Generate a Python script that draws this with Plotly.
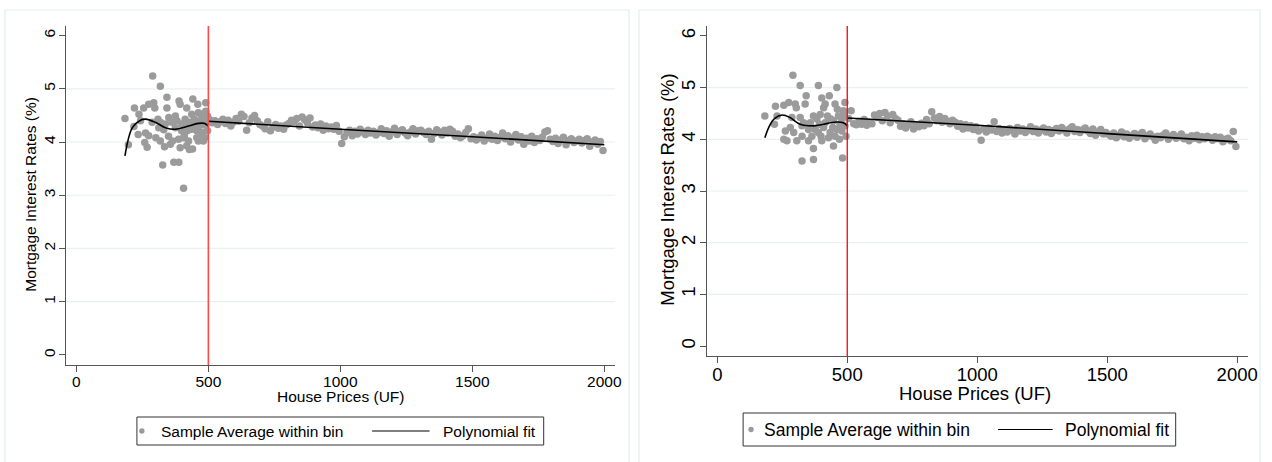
import plotly.graph_objects as go

# ---- data: left panel ----
left_low_x = [184, 197, 220, 234, 218, 255, 274, 289, 293, 297, 262, 274, 259, 268, 318, 309, 318, 301, 318, 327,
              343, 343, 337, 350, 334, 356, 369, 388, 389, 393, 381, 375, 364, 387, 393, 406, 399, 418, 412, 420,
              409, 428, 440, 441, 437, 431, 449, 456, 462, 468, 475, 485, 481, 490, 490, 490, 487, 497, 497, 497,
              362, 375, 399, 406, 415, 425, 437, 447, 456, 462, 468, 472, 477, 481, 460, 349, 331, 312, 287, 243,
              237, 418]
left_low_y = [4.44, 3.95, 4.64, 4.14, 4.29, 4.64, 4.71, 5.24, 4.74, 4.64, 4.17, 4.12, 3.99, 3.90, 5.05, 4.43, 4.37, 4.08, 4.02, 3.57,
              4.84, 4.64, 4.34, 4.46, 3.91, 3.96, 3.62, 3.62, 4.77, 4.71, 4.40, 4.27, 4.02, 4.05, 3.89, 3.13, 4.34, 4.64, 4.43, 4.21,
              4.12, 3.86, 3.87, 4.81, 4.52, 4.37, 4.31, 4.08, 4.55, 4.40, 4.18, 4.46, 4.02, 4.74, 4.58, 4.31, 4.08, 4.49, 4.21, 4.40,
              4.37, 4.49, 4.21, 4.08, 4.31, 4.02, 4.24, 4.43, 4.21, 4.02, 4.31, 4.52, 4.11, 4.37, 4.71, 4.11, 4.23, 4.27, 4.37, 4.40,
              4.52, 3.93]
left_high_y = [4.42, 4.36, 4.40, 4.33, 4.38, 4.43, 4.35, 4.41, 4.30, 4.37,
               4.44, 4.39, 4.52, 4.48, 4.22, 4.36, 4.45, 4.50, 4.40, 4.33,
               4.30, 4.25, 4.38, 4.21, 4.28, 4.33, 4.26, 4.30, 4.24, 4.32,
               4.35, 4.41, 4.38, 4.44, 4.30, 4.47, 4.42, 4.36, 4.45, 4.28,
               4.32, 4.27, 4.34, 4.22, 4.30, 4.25, 4.28, 4.24, 4.31, 4.20,
               3.97, 4.10, 4.18, 4.22, 4.12, 4.20, 4.15, 4.24, 4.19, 4.14,
               4.22, 4.17, 4.20, 4.13, 4.18, 4.25, 4.16, 4.21, 4.11, 4.19,
               4.26, 4.14, 4.20, 4.23, 4.17, 4.12, 4.19, 4.25, 4.15, 4.21,
               4.22, 4.18, 4.14, 4.20, 4.05, 4.16, 4.23, 4.19, 4.13, 4.22,
               4.17, 4.24, 4.20, 4.11, 4.15, 4.08, 4.12, 4.18, 4.25, 4.06,
               4.10, 4.04, 4.08, 4.13, 4.02, 4.07, 4.15, 4.05, 4.11, 4.03,
               4.09, 4.17, 4.06, 4.12, 4.00, 4.08, 4.14, 4.04, 4.10, 3.96,
               4.07, 4.02, 4.11, 3.99, 4.06, 4.03, 4.09, 4.19, 4.21, 4.05,
               4.01, 4.07, 3.97, 4.04, 4.09, 3.95, 4.03, 4.06, 3.99, 4.02,
               4.05, 3.98, 4.03, 4.06, 3.92, 4.00, 4.04, 3.96, 4.01, 3.84]
left_fit_low_x = [184, 212, 243, 262, 299, 337, 375, 418, 462, 485, 500]
left_fit_low_y = [3.74, 4.27, 4.41, 4.43, 4.37, 4.27, 4.24, 4.29, 4.35, 4.35, 4.30]
left_fit_high_x = [500, 1000, 1500, 2000]
left_fit_high_y = [4.39, 4.24, 4.10, 3.95]

# ---- data: right panel ----
right_low_x = [183, 220, 224, 256, 275, 291, 300, 304, 319, 262, 268, 256, 294, 306, 326, 342, 338, 332, 326, 351,
               370, 370, 389, 402, 396, 383, 377, 364, 402, 415, 431, 424, 409, 434, 447, 460, 453, 447, 460, 470,
               482, 491, 485, 479, 491, 495, 358, 370, 393, 399, 415, 428, 437, 444, 466, 472, 453, 479, 488, 462,
               351, 319, 287, 281, 230, 326, 389, 409]
right_low_y = [4.45, 4.29, 4.64, 4.66, 4.71, 5.24, 4.68, 4.61, 5.04, 4.16, 3.97, 4.00, 4.13, 3.97, 3.58, 4.84, 4.68, 4.32, 4.26, 3.97,
               3.82, 3.61, 5.04, 4.80, 4.48, 4.39, 4.19, 4.06, 3.97, 4.68, 4.84, 4.45, 4.23, 4.13, 3.87, 5.00, 4.68, 4.36, 4.19, 4.00,
               3.64, 4.71, 4.55, 4.39, 4.26, 4.06, 4.32, 4.45, 4.29, 4.06, 4.32, 4.03, 4.39, 4.23, 4.45, 4.29, 4.06, 4.16, 4.48, 4.58,
               4.19, 4.42, 4.42, 4.23, 4.45, 4.06, 4.13, 4.61]
right_high_y = [4.40, 4.55, 4.30, 4.28, 4.35, 4.29, 4.38, 4.27, 4.33, 4.30,
                4.47, 4.42, 4.50, 4.36, 4.52, 4.45, 4.32, 4.48, 4.40, 4.37,
                4.25, 4.30, 4.22, 4.28, 4.34, 4.20, 4.27, 4.24, 4.31, 4.26,
                4.38, 4.30, 4.53, 4.41, 4.36, 4.44, 4.33, 4.40, 4.35, 4.30,
                4.37, 4.33, 4.25, 4.30, 4.20, 4.28, 4.22, 4.26, 4.19, 4.24,
                4.16, 3.98, 4.20, 4.14, 4.22, 4.18, 4.34, 4.15, 4.21, 4.12,
                4.19, 4.14, 4.21, 4.17, 4.10, 4.23, 4.16, 4.20, 4.13, 4.18,
                4.24, 4.15, 4.20, 4.12, 4.18, 4.22, 4.14, 4.19, 4.11, 4.17,
                4.21, 4.16, 4.23, 4.18, 4.12, 4.20, 4.24, 4.15, 4.19, 4.13,
                4.18, 4.22, 4.16, 4.11, 4.20, 4.08, 4.14, 4.19, 4.10, 4.13,
                4.09, 4.06, 4.12, 4.03, 4.08, 4.14, 4.05, 4.10, 4.02, 4.07,
                4.11, 4.04, 4.09, 4.13, 4.01, 4.07, 4.10, 4.05, 3.98, 4.06,
                4.03, 4.08, 4.12, 4.00, 4.06, 4.09, 4.02, 4.05, 4.10, 4.01,
                4.04, 3.97, 4.07, 4.02, 4.08, 3.99, 4.05, 4.01, 4.06, 4.03,
                3.98, 4.05, 4.01, 4.04, 3.95, 4.00, 4.02, 3.97, 4.15, 3.86]
right_fit_low_x = [183, 200, 220, 250, 280, 319, 370, 409, 447, 485, 500]
right_fit_low_y = [4.03, 4.25, 4.40, 4.47, 4.42, 4.29, 4.26, 4.29, 4.33, 4.32, 4.26]
right_fit_high_x = [500, 1000, 1500, 2000]
right_fit_high_y = [4.41, 4.27, 4.11, 3.95]

high_x = list(range(505, 2000, 10))   # bin centres above the cutoff
cutoff = 500
grid_vals = [1, 2, 3, 4, 5]
x_ticks = [0, 500, 1000, 1500, 2000]
y_ticks = [0, 1, 2, 3, 4, 5, 6]
legend_labels = ["Sample Average within bin", "Polynomial fit"]

FONT = "Liberation Sans, Arial, sans-serif"
DOT = "#9b9b9b"
AX = "#555555"
W, H = 1272, 462

def px(v):
    return v / W

def py(v):
    return (H - v) / H

fig = go.Figure()

def add_panel(n, low_x, low_y, hi_y, fl_x, fl_y, fh_x, fh_y):
    xa = "x" if n == 1 else "x2"
    ya = "y" if n == 1 else "y2"
    fig.add_trace(go.Scatter(x=low_x + high_x, y=low_y + hi_y, mode="markers",
                             marker=dict(color=DOT, size=7.5, line=dict(width=0)),
                             name=legend_labels[0], xaxis=xa, yaxis=ya, showlegend=False))
    for fx, fy in ((fl_x, fl_y), (fh_x, fh_y)):
        fig.add_trace(go.Scatter(x=fx, y=fy, mode="lines", line=dict(color="black", width=1.6, shape="spline"),
                                 name=legend_labels[1], xaxis=xa, yaxis=ya, showlegend=False))

add_panel(1, left_low_x, left_low_y, left_high_y, left_fit_low_x, left_fit_low_y,
          left_fit_high_x, left_fit_high_y)
add_panel(2, right_low_x, right_low_y, right_high_y, right_fit_low_x, right_fit_low_y,
          right_fit_high_x, right_fit_high_y)

def axes(fs, xdom, ydom, xr, yr):
    xa = dict(domain=xdom, range=xr, tickvals=x_ticks, showgrid=False, zeroline=False,
              showline=True, linecolor=AX, linewidth=1.3, ticks="outside", ticklen=6, tickcolor=AX,
              tickfont=dict(size=fs, color="black"), ticklabelstandoff=-4)
    ya = dict(domain=ydom, range=yr, tickvals=y_ticks, showgrid=False, zeroline=False,
              showline=True, linecolor=AX, linewidth=1.3, ticks="outside", ticklen=6, tickcolor=AX,
              tickangle=-90, tickfont=dict(size=fs, color="black"), ticklabelstandoff=-2)
    return xa, ya

xa1, ya1 = axes(15.5, [px(67), px(620)], [py(365), py(26)], [-37.6, 2041], [-0.19, 6.18])
xa2, ya2 = axes(18.5, [px(713), px(1258)], [py(356), py(26)], [-38, 2042], [-0.19, 6.19])
ya2["anchor"] = "x2"
xa2["anchor"] = "y2"

shapes = []
annotations = []
# panel frames
shapes.append(dict(type="rect", xref="paper", yref="paper", x0=px(5), x1=px(634), y0=-0.05, y1=py(10),
                   line=dict(color="#e4ecee", width=1.2)))
shapes.append(dict(type="rect", xref="paper", yref="paper", x0=px(644), x1=px(1270), y0=-0.05, y1=py(10),
                   line=dict(color="#e4ecee", width=1.2)))
for xr, yr in (("x", "y"), ("x2", "y2")):
    for g in grid_vals:
        shapes.append(dict(type="line", xref=xr + " domain", yref=yr, x0=0, x1=1, y0=g, y1=g,
                           line=dict(color="#e8f0f2", width=1.2), layer="below"))
shapes.append(dict(type="line", xref="x", yref="y domain", x0=cutoff, x1=cutoff, y0=0, y1=1,
                   line=dict(color="#ff4a4a", width=1.6)))
shapes.append(dict(type="line", xref="x2", yref="y2 domain", x0=cutoff, x1=cutoff, y0=0, y1=1,
                   line=dict(color="#ff0000", width=1.3)))

# axis titles
for fs, xt, yt, ytx, yty in ((15.5, 343, 397, 30, 194), (18.5, 983, 393, 673, 190)):
    annotations.append(dict(text="House Prices (UF)", x=px(xt), y=py(yt), xref="paper", yref="paper",
                            showarrow=False, xanchor="center", yanchor="middle", font=dict(size=fs)))
    annotations.append(dict(text="Mortgage Interest Rates (%)", x=px(ytx), y=py(yty), xref="paper", yref="paper",
                            showarrow=False, xanchor="center", yanchor="middle", textangle=-90, font=dict(size=fs)))

# legends drawn as boxes (Stata style)
for fs, bx0, bx1, by0, by1, dotx, t1x, lx0, lx1, t2x in (
        (15.5, 138, 548, 417, 445, 143, 160, 375, 433, 444),
        (17.5, 749, 1185, 413, 446, 757, 768, 1006, 1061, 1071)):
    ym = (by0 + by1) / 2
    shapes.append(dict(type="rect", xref="paper", yref="paper", x0=px(bx0), x1=px(bx1), y0=py(by1), y1=py(by0),
                       line=dict(color="#333333", width=1), fillcolor="white"))
    shapes.append(dict(type="circle", xref="paper", yref="paper", x0=px(dotx - 2.7), x1=px(dotx + 2.7),
                       y0=py(ym + 2.7), y1=py(ym - 2.7), line=dict(width=0), fillcolor=DOT))
    shapes.append(dict(type="line", xref="paper", yref="paper", x0=px(lx0), x1=px(lx1), y0=py(ym), y1=py(ym),
                       line=dict(color="black", width=1.2)))
    annotations.append(dict(text=legend_labels[0], x=px(t1x), y=py(ym), xref="paper", yref="paper",
                            showarrow=False, xanchor="left", yanchor="middle", font=dict(size=fs)))
    annotations.append(dict(text=legend_labels[1], x=px(t2x), y=py(ym), xref="paper", yref="paper",
                            showarrow=False, xanchor="left", yanchor="middle", font=dict(size=fs)))

fig.update_layout(
    width=W, height=H, margin=dict(l=0, r=0, t=0, b=0),
    paper_bgcolor="white", plot_bgcolor="white",
    font=dict(family=FONT, color="black"),
    xaxis=xa1, yaxis=ya1, xaxis2=xa2, yaxis2=ya2,
    shapes=shapes, annotations=annotations, showlegend=False,
)

fig.write_html("out.html", config={"displayModeBar": False},
               post_script="document.body.style.margin='0px';")
